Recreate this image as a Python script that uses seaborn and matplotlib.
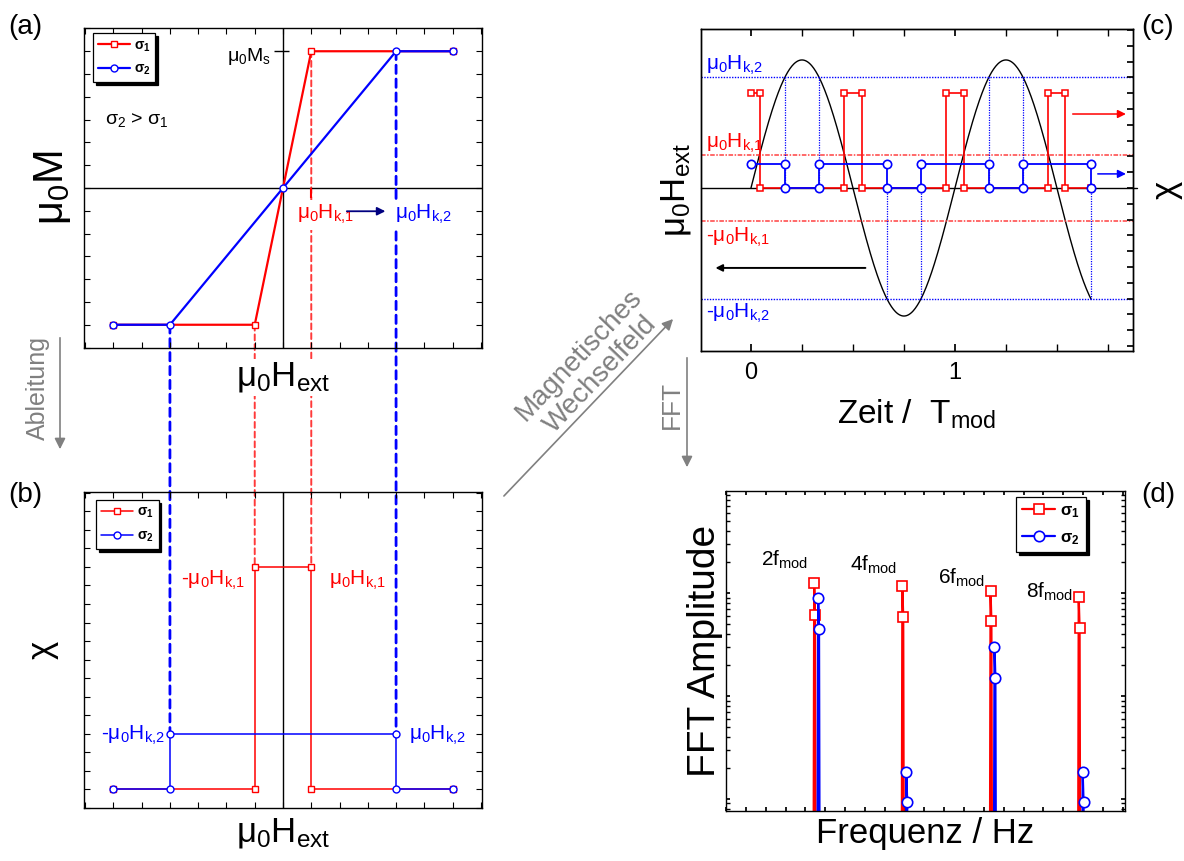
# Schema: Magnetisierung, Ableitung, Zeitsignal und FFT für zwei Verteilungsbreiten sigma_1 < sigma_2

import numpy as np
import matplotlib
matplotlib.use('Agg')
import matplotlib.pyplot as plt
import seaborn as sns
from matplotlib.patches import ConnectionPatch, FancyArrowPatch
from matplotlib.ticker import MultipleLocator, FixedLocator, LogLocator, NullFormatter

sns.set_theme(style='ticks', rc={'axes.edgecolor': 'black', 'text.color': 'black',
                                 'axes.labelcolor': 'black', 'xtick.color': 'black',
                                 'ytick.color': 'black'})
plt.rcParams['font.family'] = ['Liberation Sans', 'DejaVu Sans']
plt.rcParams['mathtext.fontset'] = 'custom'
plt.rcParams['mathtext.rm'] = 'Liberation Sans'
plt.rcParams['mathtext.it'] = 'Liberation Sans:italic'
plt.rcParams['mathtext.bf'] = 'Liberation Sans:bold'
plt.rcParams['mathtext.default'] = 'regular'

RED = '#ff0000'
BLUE = '#0000ff'
GRAY = '#808080'

# ---- Daten ----
# (a) Magnetisierungskurven (H in Einheiten von Hk,2, M in Einheiten von Ms)
h_s1 = [-1.5, -0.25, 0.25, 1.5]
m_s1 = [-1, -1, 1, 1]
h_s2 = [-1.5, -1.0, 0.0, 1.0, 1.5]
m_s2 = [-1, -1, 0, 1, 1]
hk1 = 0.25
hk2 = 1.0

# (b) Ableitung chi
h_chi1 = [-1.5, -0.25, -0.25, 0.25, 0.25, 1.5]
chi_s1 = [0, 0, 4, 4, 0, 0]
h_chi2 = [-1.5, -1.0, -1.0, 1.0, 1.0, 1.5]
chi_s2 = [0, 0, 1, 1, 0, 0]
chi1_lvl = 4
chi2_lvl = 1

# (c) Zeitsignal
t_stop = 1.668
h_amp = 1.15
hk1_c = 0.30
hk2_c = 1.0
switch_s1 = [0.042, 0.458, 0.542, 0.958, 1.042, 1.458, 1.542]
switch_s2 = [0.168, 0.332, 0.668, 0.832, 1.168, 1.332, 1.668]
chi1_c = 6.0
chi2_c = 1.5

# (d) FFT
harm = [2, 4, 6, 8]
harm_labels = ['2f$_{mod}$', '4f$_{mod}$', '6f$_{mod}$', '8f$_{mod}$']
amp1_top = [1.25, 1.17, 1.05, 0.91]
amp1_2nd = [0.61, 0.58, 0.53, 0.46]
amp2_top = [0.89, 0.018, 0.30, 0.018]
amp2_2nd = [0.45, 0.0093, 0.15, 0.0093]
fft_floor = 1e-4
blue_shift = 0.09

HK1 = 'μ$_0$H$_{k{,}1}$'
HK2 = 'μ$_0$H$_{k{,}2}$'

W, H = 1184, 861


def fxy(px, py):
    # Referenzpixel -> Figurkoordinaten
    return px / W, 1 - py / H


def step_signal(switch, stop, level):
    # Rechtecksignal, startet hoch bei t=0
    t = [0.0]
    y = [level]
    high = True
    for s in switch:
        t += [s, s]
        y += [level if high else 0, 0 if high else level]
        high = not high
    if t[-1] < stop:
        t.append(stop)
        y.append(level if high else 0)
    return t, y


def spectrum(centers, top, second, dx=0.02):
    f, a = [], []
    for c, t, s in zip(centers, top, second):
        f += [c - dx, c, c + dx, c + 2 * dx]
        a += [fft_floor, t, s, fft_floor]
    return f, a


def box_ticks(ax, xstep, ystep):
    ax.xaxis.set_major_locator(MultipleLocator(xstep))
    ax.yaxis.set_major_locator(MultipleLocator(ystep))
    ax.tick_params(which='both', direction='in', length=4, width=0.8, top=True, right=True,
                   bottom=True, left=True, labelbottom=False, labelleft=False)
    for sp in ax.spines.values():
        sp.set_linewidth(1)


def sigma_legend(ax, handles, anchor, size=10, hlen=2.3):
    leg = ax.legend(handles=handles, labels=['σ$_\\mathbf{1}$', 'σ$_\\mathbf{2}$'],
                    loc='upper left', bbox_to_anchor=anchor, borderaxespad=0,
                    prop={'weight': 'bold', 'size': size}, fancybox=False, framealpha=1,
                    edgecolor='black', handlelength=hlen, handletextpad=0.3,
                    labelspacing=0.6, borderpad=0.35,
                    shadow={'facecolor': 'black', 'edgecolor': 'black', 'alpha': 1})
    leg.get_frame().set_linewidth(0.9)
    return leg


fig = plt.figure(figsize=(W / 100, H / 100), dpi=100)
ax_a = fig.add_axes([84 / W, 1 - 348 / H, 398 / W, 320 / H])
ax_b = fig.add_axes([84 / W, 1 - 808 / H, 398 / W, 316 / H])
ax_c = fig.add_axes([701 / W, 1 - 351 / H, 432 / W, 322 / H])
ax_d = fig.add_axes([726 / W, 1 - 811 / H, 399 / W, 320 / H])

for ax in (ax_a, ax_b):
    ax.set_zorder(2)
    ax.patch.set_visible(False)

# ---- (a) ----
sns.lineplot(x=h_s1, y=m_s1, ax=ax_a, sort=False, estimator=None, color=RED, lw=1.6,
             marker='s', ms=4.5, mfc='white', mec=RED, mew=1)
sns.lineplot(x=h_s2, y=m_s2, ax=ax_a, sort=False, estimator=None, color=BLUE, lw=1.6,
             marker='o', ms=5, mfc='white', mec=BLUE, mew=1)
ax_a.axhline(0, color='black', lw=1, zorder=1)
ax_a.axvline(0, color='black', lw=1, zorder=1)
ax_a.set_xlim(-1.76, 1.76)
ax_a.set_ylim(-1.17, 1.17)
box_ticks(ax_a, 0.25, 1 / 6)
ax_a.vlines([hk1], -0.07, 0, color=RED, lw=1.5)
ax_a.vlines([hk2], -0.07, 0, color=BLUE, lw=1.5)
ax_a.hlines(1, -0.08, 0.05, color='black', lw=1)
ax_a.annotate('μ$_0$M$_s$', xy=(-0.08, 1), xytext=(-2, -4), textcoords='offset points',
              ha='right', va='center', fontsize=14)
ax_a.text(-1.57, 0.5, 'σ$_2$ > σ$_1$', fontsize=14, va='center', ha='left')
lab_bbox = dict(facecolor='white', edgecolor='none', boxstyle='square,pad=0.15')
ax_a.annotate(HK1, xy=(hk1, 0), xytext=(-10, -11), textcoords='offset points',
              ha='left', va='top', fontsize=15, color=RED, bbox=lab_bbox)
ax_a.annotate(HK2, xy=(hk2, 0), xytext=(-1, -11), textcoords='offset points',
              ha='left', va='top', fontsize=15, color=BLUE, bbox=lab_bbox)
ax_a.annotate('', xy=(0.93, -0.17), xytext=(0.54, -0.17),
              arrowprops=dict(arrowstyle='-|>', color='#000080', lw=1.3, mutation_scale=12))
ax_a.set_ylabel('μ$_0$M', fontsize=30, labelpad=8)
ax_a.set_xlabel('μ$_0$H$_{ext}$', fontsize=25, labelpad=9,
                bbox=dict(facecolor='white', edgecolor='none', pad=1))
sigma_legend(ax_a, ax_a.lines[:2], (0.022, 0.983))

# ---- (b) ----
sns.lineplot(x=h_chi1, y=chi_s1, ax=ax_b, sort=False, estimator=None, color=RED, lw=1.1,
             marker='s', ms=4.5, mfc='white', mec=RED, mew=1)
sns.lineplot(x=h_chi2, y=chi_s2, ax=ax_b, sort=False, estimator=None, color=BLUE, lw=1.1,
             marker='o', ms=5, mfc='white', mec=BLUE, mew=1)
ax_b.axvline(0, color='black', lw=1, zorder=1)
ax_b.set_xlim(-1.76, 1.76)
ax_b.set_ylim(-0.34, 5.35)
box_ticks(ax_b, 0.25, 1 / 3)
ax_b.annotate('-' + HK1, xy=(-hk1, chi1_lvl), xytext=(-7, -1), textcoords='offset points',
              ha='right', va='top', fontsize=15, color=RED)
ax_b.annotate(HK1, xy=(hk1, chi1_lvl), xytext=(13, -1), textcoords='offset points',
              ha='left', va='top', fontsize=15, color=RED)
ax_b.annotate('-' + HK2, xy=(-hk2, chi2_lvl), xytext=(-4, -1), textcoords='offset points',
              ha='right', va='center', fontsize=15, color=BLUE)
ax_b.annotate(HK2, xy=(hk2, chi2_lvl), xytext=(9, -1), textcoords='offset points',
              ha='left', va='center', fontsize=15, color=BLUE)
ax_b.set_ylabel('χ', fontsize=25, labelpad=18)
ax_b.set_xlabel('μ$_0$H$_{ext}$', fontsize=25, labelpad=6)
sigma_legend(ax_b, ax_b.lines[:2], (0.03, 0.975))

# gestrichelte Verbindungen (a) -> (b)
links = [((-hk2, -1), (-hk2, chi2_lvl), BLUE, 2.0),
         ((-hk1, -1), (-hk1, chi1_lvl), '#ff3a3a', 1.4),
         ((hk1, 1), (hk1, chi1_lvl), '#ff3a3a', 1.4),
         ((hk2, 1), (hk2, chi2_lvl), BLUE, 2.0)]
for pa, pb, col, lw in links:
    con = ConnectionPatch(xyA=pa, coordsA=ax_a.transData, xyB=pb, coordsB=ax_b.transData,
                          color=col, lw=lw, linestyle=(0, (3, 2)), zorder=1)
    fig.add_artist(con)

# ---- (c) ----
t = np.linspace(0, t_stop, 500)
h_t = h_amp * np.sin(2 * np.pi * t)
sns.lineplot(x=t, y=h_t, ax=ax_c, sort=False, estimator=None, color='black', lw=1)
ax_c.axhline(0, color='black', lw=1, xmax=1.01, clip_on=False)
for lvl in (hk2_c, -hk2_c):
    ax_c.axhline(lvl, color=BLUE, lw=1, linestyle=(0, (1, 1)))
for lvl in (hk1_c, -hk1_c):
    ax_c.axhline(lvl, color='#ff4040', lw=1.1, linestyle=(0, (3, 1, 1, 1)))
for s in switch_s2:
    sgn = np.sign(np.sin(2 * np.pi * s))
    ax_c.vlines(s, 0, sgn * hk2_c, color=BLUE, lw=0.9, linestyle=(0, (1, 1)))
ax_c.set_xlim(-0.245, 1.873)
ax_c.set_ylim(-1.464, 1.428)

ax_t = ax_c.twinx()
t1, y1 = step_signal(switch_s1, t_stop, chi1_c)
t2, y2 = step_signal(switch_s2, t_stop, chi2_c)
sns.lineplot(x=t1, y=y1, ax=ax_t, sort=False, estimator=None, color=RED, lw=1.2,
             marker='s', ms=5, mfc='white', mec=RED, mew=1.1)
sns.lineplot(x=t2, y=y2, ax=ax_t, sort=False, estimator=None, color=BLUE, lw=1.3,
             marker='o', ms=6, mfc='white', mec=BLUE, mew=1.2)
ax_t.set_ylim(-10.32, 10.06)
ax_t.set_xlim(-0.245, 1.873)
ax_t.yaxis.set_major_locator(MultipleLocator(1))
ax_t.tick_params(axis='y', which='both', direction='in', length=4, right=True, left=False,
                 labelright=False, labelleft=False)
ax_t.set_ylabel('χ', fontsize=25, labelpad=12, rotation=90)

ax_c.xaxis.set_major_locator(FixedLocator([0, 1]))
ax_c.xaxis.set_minor_locator(MultipleLocator(0.25))
ax_c.tick_params(axis='x', which='both', direction='in', length=5, top=True, bottom=True,
                 labelsize=17, pad=8)
ax_c.tick_params(axis='y', which='both', left=False, right=False, labelleft=False)
for sp in list(ax_c.spines.values()) + list(ax_t.spines.values()):
    sp.set_linewidth(1)

c_txt = [(HK2, hk2_c, 'bottom', BLUE, 0), (HK1, hk1_c, 'bottom', RED, 0),
         ('-' + HK1, -hk1_c, 'top', RED, -3), ('-' + HK2, -hk2_c, 'top', BLUE, -2)]
for s, lvl, va, col, dy in c_txt:
    ax_c.annotate(s, xy=(0.012, lvl), xycoords=('axes fraction', 'data'), xytext=(0, dy),
                  textcoords='offset points', ha='left', va=va, fontsize=15, color=col)
ax_c.annotate('', xy=(0.99, 0.736), xytext=(0.854, 0.736), xycoords='axes fraction',
              arrowprops=dict(arrowstyle='-|>', color=RED, lw=1.1, mutation_scale=12))
ax_c.annotate('', xy=(0.99, 0.55), xytext=(0.912, 0.55), xycoords='axes fraction',
              arrowprops=dict(arrowstyle='-|>', color=BLUE, lw=1.1, mutation_scale=12))
ax_c.annotate('', xy=(0.027, 0.258), xytext=(0.387, 0.258), xycoords='axes fraction',
              arrowprops=dict(arrowstyle='-|>', color='black', lw=1.4, mutation_scale=10))
ax_c.set_ylabel('μ$_0$H$_{ext}$', fontsize=25, labelpad=6)
ax_c.set_xlabel('Zeit /  T$_{mod}$', fontsize=24, labelpad=10)

# ---- (d) ----
f1, a1 = spectrum(harm, amp1_top, amp1_2nd)
f2, a2 = spectrum([h + blue_shift for h in harm], amp2_top, amp2_2nd)
sns.lineplot(x=f1, y=a1, ax=ax_d, sort=False, estimator=None, color=RED, lw=1.6,
             marker='s', ms=7, mfc='white', mec=RED, mew=1.2)
sns.lineplot(x=f2, y=a2, ax=ax_d, sort=False, estimator=None, color=BLUE, lw=1.6,
             marker='o', ms=7.5, mfc='white', mec=BLUE, mew=1.2)
ax_d.set_yscale('log')
ax_d.set_xlim(0, 9.05)
ax_d.set_ylim(0.0076, 9.8)
ax_d.xaxis.set_major_locator(MultipleLocator(0.45))
ax_d.yaxis.set_major_locator(LogLocator(base=10))
ax_d.yaxis.set_minor_locator(LogLocator(base=10, subs=np.arange(2, 10)))
ax_d.yaxis.set_minor_formatter(NullFormatter())
ax_d.tick_params(which='both', direction='in', length=3, top=True, right=True, bottom=True,
                 left=True, labelbottom=False, labelleft=False)
for sp in ax_d.spines.values():
    sp.set_linewidth(1)
lab_dy = [17, 15, 9, 4]
for hx, top, s, dy in zip(harm, amp1_top, harm_labels, lab_dy):
    ax_d.annotate(s, xy=(hx, top), xytext=(-4, dy), textcoords='offset points',
                  ha='right', va='center', fontsize=15)
ax_d.set_ylabel('FFT Amplitude', fontsize=28, labelpad=2)
ax_d.set_xlabel('Frequenz / Hz', fontsize=25, labelpad=4)
sigma_legend(ax_d, ax_d.lines[:2], (0.727, 0.98), size=12, hlen=2.0)

# ---- Beschriftungen und Pfeile zwischen den Teilbildern ----
for s, (px, py) in zip(['(a)', '(b)', '(c)', '(d)'], [(8, 14), (8, 482), (1141, 14), (1141, 482)]):
    fig.text(*fxy(px, py), s, fontsize=20, ha='left', va='top')


def gray_arrow(p0, p1):
    fig.add_artist(FancyArrowPatch(fxy(*p0), fxy(*p1), transform=fig.transFigure,
                                   arrowstyle='-|>', mutation_scale=16, color=GRAY, lw=1.2,
                                   zorder=3))


gray_arrow((60, 335), (60, 452))
fig.text(*fxy(38, 388), 'Ableitung', rotation=90, color=GRAY, fontsize=18, ha='center', va='center')
gray_arrow((687, 355), (687, 470))
fig.text(*fxy(672, 405), 'FFT', rotation=90, color=GRAY, fontsize=19, ha='center', va='center')
gray_arrow((502, 498), (675, 317))
fig.text(*fxy(590, 365), 'Magnetisches\nWechselfeld', rotation=46.5, color=GRAY, fontsize=20,
         ha='center', va='center', multialignment='center', rotation_mode='anchor',
         linespacing=1.15)

fig.savefig('out.png', dpi=100)
